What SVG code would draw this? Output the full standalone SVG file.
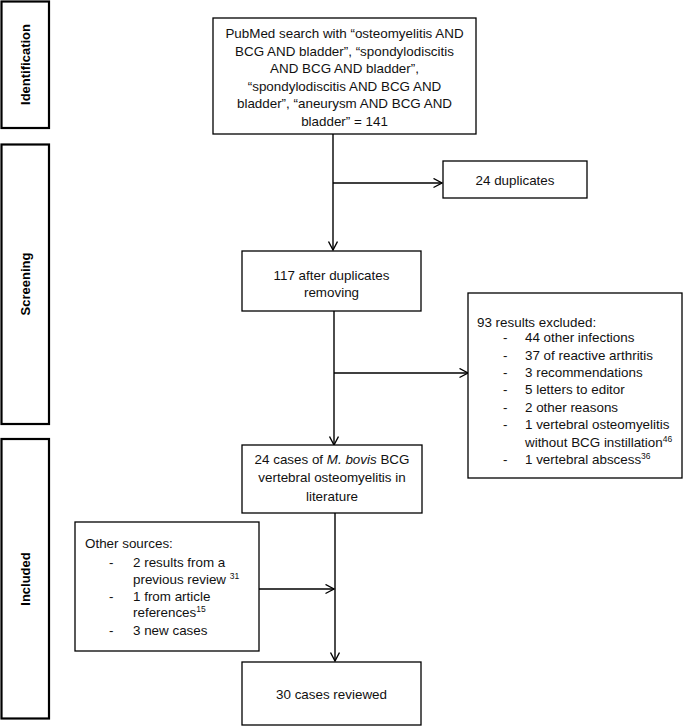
<svg xmlns="http://www.w3.org/2000/svg" width="685" height="726" viewBox="0 0 685 726">
<defs>
<style>
.box{fill:#fff;stroke:#000;stroke-width:1.3}
.side{fill:#fff;stroke:#000;stroke-width:2.2}
.t{font-family:"Liberation Sans",Arial,sans-serif;font-size:13.4px;fill:#111}
.c{text-anchor:middle}
.lab{font-family:"Liberation Sans",Arial,sans-serif;font-size:13px;font-weight:bold;fill:#000;text-anchor:middle}
.ln{fill:none;stroke:#000;stroke-width:1.4}
.sup{font-size:8.5px}
</style>
<marker id="ah" markerWidth="12" markerHeight="12" refX="9" refY="5" orient="auto" markerUnits="userSpaceOnUse">
<path d="M0.5,0.5 L9,5 L0.5,9.5" fill="none" stroke="#000" stroke-width="1.4"/>
</marker>
</defs>
<rect width="685" height="726" fill="#fff"/>

<g id="stage-identification">
<rect class="side" x="1.5" y="1.5" width="47.5" height="126.5"/>
<text class="lab" transform="translate(29.5,64.5) rotate(-90)">Identification</text>
</g>
<g id="stage-screening">
<rect class="side" x="1.5" y="144.5" width="47.5" height="279.5"/>
<text class="lab" transform="translate(29.5,284) rotate(-90)">Screening</text>
</g>
<g id="stage-included">
<rect class="side" x="1.5" y="439" width="47.5" height="279.5"/>
<text class="lab" transform="translate(29.5,579) rotate(-90)">Included</text>
</g>

<g id="connectors">
<line class="ln" x1="333" y1="134" x2="333" y2="250" marker-end="url(#ah)"/>
<line class="ln" x1="333" y1="183" x2="442" y2="183" marker-end="url(#ah)"/>
<line class="ln" x1="334" y1="311" x2="334" y2="445" marker-end="url(#ah)"/>
<line class="ln" x1="334" y1="373" x2="468" y2="373" marker-end="url(#ah)"/>
<line class="ln" x1="335" y1="513" x2="335" y2="661" marker-end="url(#ah)"/>
<line class="ln" x1="259" y1="589" x2="334" y2="589" marker-end="url(#ah)"/>
</g>

<g id="pubmed">
<rect class="box" x="213" y="18" width="263" height="116"/>
<text class="t c" x="344.5" y="38">PubMed search with “osteomyelitis AND</text>
<text class="t c" x="344.5" y="55.5">BCG AND bladder”, “spondylodiscitis</text>
<text class="t c" x="344.5" y="73">AND BCG AND bladder”,</text>
<text class="t c" x="344.5" y="90.5">“spondylodiscitis AND BCG AND</text>
<text class="t c" x="344.5" y="108">bladder”, “aneurysm AND BCG AND</text>
<text class="t c" x="344.5" y="125.5">bladder” = 141</text>
</g>

<g id="duplicates">
<rect class="box" x="443" y="161" width="144" height="37"/>
<text class="t c" x="515" y="184.5">24 duplicates</text>
</g>

<g id="after-duplicates">
<rect class="box" x="242" y="251" width="179" height="60"/>
<text class="t c" x="331.5" y="279.5">117 after duplicates</text>
<text class="t c" x="331.5" y="297">removing</text>
</g>

<g id="excluded">
<rect class="box" x="468" y="293" width="214" height="185"/>
<text class="t" x="477" y="326.5">93 results excluded:</text>
<text class="t" x="503" y="342">-</text><text class="t" x="525" y="342">44 other infections</text>
<text class="t" x="503" y="359.5">-</text><text class="t" x="525" y="359.5">37 of reactive arthritis</text>
<text class="t" x="503" y="377">-</text><text class="t" x="525" y="377">3 recommendations</text>
<text class="t" x="503" y="394">-</text><text class="t" x="525" y="394">5 letters to editor</text>
<text class="t" x="503" y="411.5">-</text><text class="t" x="525" y="411.5">2 other reasons</text>
<text class="t" x="503" y="429">-</text><text class="t" x="525" y="429">1 vertebral osteomyelitis</text>
<text class="t" x="525" y="446.5">without BCG instillation<tspan class="sup" dy="-5">46</tspan></text>
<text class="t" x="503" y="464">-</text><text class="t" x="525" y="464">1 vertebral abscess<tspan class="sup" dy="-5">36</tspan></text>
</g>

<g id="cases-literature">
<rect class="box" x="242" y="445" width="180" height="68"/>
<text class="t c" x="332" y="463.5">24 cases of <tspan font-style="italic">M. bovis</tspan> BCG</text>
<text class="t c" x="332" y="482">vertebral osteomyelitis in</text>
<text class="t c" x="332" y="500.5">literature</text>
</g>

<g id="other-sources">
<rect class="box" x="75" y="522" width="184" height="129"/>
<text class="t" x="85" y="547.5">Other sources:</text>
<text class="t" x="109" y="566.5">-</text><text class="t" x="133" y="566.5">2 results from a</text>
<text class="t" x="133" y="583.5">previous review <tspan class="sup" dy="-5">31</tspan></text>
<text class="t" x="109" y="600.5">-</text><text class="t" x="133" y="600.5">1 from article</text>
<text class="t" x="133" y="616.5">references<tspan class="sup" dy="-5">15</tspan></text>
<text class="t" x="109" y="634.5">-</text><text class="t" x="133" y="634.5">3 new cases</text>
</g>

<g id="reviewed">
<rect class="box" x="242" y="662" width="179" height="63"/>
<text class="t c" x="331.5" y="698.5">30 cases reviewed</text>
</g>
</svg>
